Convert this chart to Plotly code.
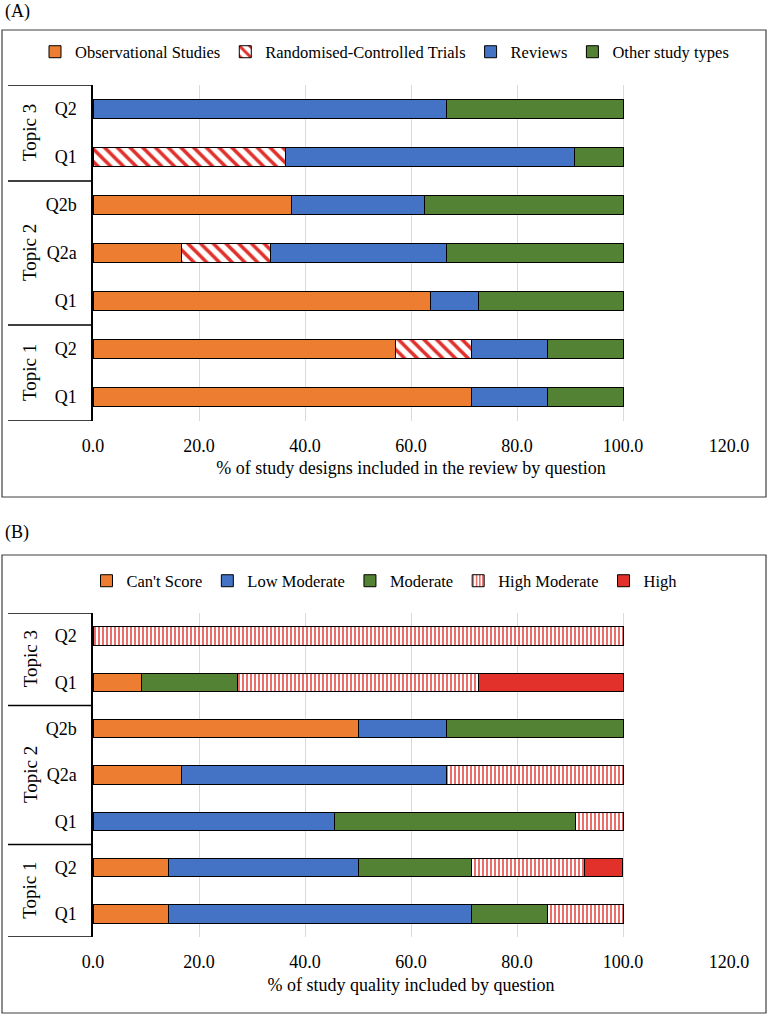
import plotly.graph_objects as go

# ---------------- data ----------------
categories = ["T1 Q1", "T1 Q2", "T2 Q1", "T2 Q2a", "T2 Q2b", "T3 Q1", "T3 Q2"]
question_labels = ["Q1", "Q2", "Q1", "Q2a", "Q2b", "Q1", "Q2"]
topic_labels = ["Topic 1", "Topic 2", "Topic 3"]
topic_centers = [0.5, 3.0, 5.5]
topic_bounds = [-0.5, 1.5, 4.5, 6.5]
x_ticks = [0, 20, 40, 60, 80, 100, 120]

# Panel A: study designs (%)
observational = [71.4, 57.1, 63.6, 16.7, 37.5, 0, 0]
rct = [0, 14.3, 0, 16.7, 0, 36.4, 0]
reviews = [14.3, 14.3, 9.1, 33.3, 25.0, 54.5, 66.7]
other_types = [14.3, 14.3, 27.3, 33.3, 37.5, 9.1, 33.3]

# Panel B: study quality (%)
cant_score = [14.3, 14.3, 0, 16.7, 50.0, 9.1, 0]
low_moderate = [57.1, 35.7, 45.5, 50.0, 16.7, 0, 0]
moderate = [14.3, 21.4, 45.5, 0, 33.3, 18.2, 0]
high_moderate = [14.3, 21.4, 9.1, 33.3, 0, 45.5, 100.0]
high = [0, 7.1, 0, 0, 0, 27.3, 0]

# ---------------- styling ----------------
W, H = 769, 1016
FONT = "Liberation Serif"
ORANGE = "#ED7D31"
BLUE = "#4472C4"
GREEN = "#548235"
RED = "#E2312A"
HATCH = "#E0302A"


def py(px):
    return 1 - px / H


def px_x(px):
    return px / W


def nz(vals):
    return [v if v else None for v in vals]


fig = go.Figure()


def add_bar(name, vals, yaxis, xaxis, legend, color, pattern=None):
    marker = dict(color=color, line=dict(color="black", width=1))
    if pattern is not None:
        marker["pattern"] = pattern
    fig.add_trace(go.Bar(
        name=name, x=nz(vals), y=categories, orientation="h",
        xaxis=xaxis, yaxis=yaxis, legend=legend, marker=marker,
    ))


diag = dict(shape="\\", fgcolor=HATCH, bgcolor="white", size=9, solidity=0.4,
            fillmode="overlay", fgopacity=1)
vert = dict(shape="|", fgcolor=HATCH, bgcolor="white", size=4, solidity=0.35,
            fillmode="overlay", fgopacity=1)

add_bar("Observational Studies", observational, "y", "x", "legend", ORANGE)
add_bar("Randomised-Controlled Trials", rct, "y", "x", "legend", "white", diag)
add_bar("Reviews", reviews, "y", "x", "legend", BLUE)
add_bar("Other study types", other_types, "y", "x", "legend", GREEN)

add_bar("Can't Score", cant_score, "y2", "x2", "legend2", ORANGE)
add_bar("Low Moderate", low_moderate, "y2", "x2", "legend2", BLUE)
add_bar("Moderate", moderate, "y2", "x2", "legend2", GREEN)
add_bar("High Moderate", high_moderate, "y2", "x2", "legend2", "white", vert)
add_bar("High", high, "y2", "x2", "legend2", RED)

x_domain = [px_x(93), px_x(729)]
panelA = dict(top=85, bottom=421, box=(30, 497), legend_y=52, label_y=12,
              title="% of study designs included in the review by question")
panelB = dict(top=613, bottom=937, box=(555, 1013), legend_y=581, label_y=532,
              title="% of study quality included by question")

common_x = dict(
    range=[0, 120], tickvals=x_ticks, ticktext=[f"{v:.1f}" for v in x_ticks],
    showgrid=True, gridcolor="#D9D9D9", gridwidth=1, zeroline=False,
    showline=False, ticks="", tickfont=dict(size=18, family=FONT, color="black"),
    ticklabelstandoff=12, domain=x_domain, automargin=False,
)
common_y = dict(
    type="category", categoryorder="array", categoryarray=categories,
    tickvals=categories, ticktext=question_labels, range=[-0.5, 6.5],
    showline=True, linecolor="black", linewidth=1.5, ticks="",
    showgrid=False, zeroline=False, ticklabelstandoff=11, automargin=False,
    tickfont=dict(size=18, family=FONT, color="black"),
)

legend_common = dict(orientation="h", x=0.5, xanchor="center", yanchor="middle",
                     font=dict(size=16.5, family=FONT, color="black"), traceorder="normal",
                     itemwidth=30, bgcolor="rgba(0,0,0,0)")

fig.update_layout(
    template="none",
    xaxis=dict(common_x, anchor="y",
               title=dict(text=panelA["title"], font=dict(size=18, family=FONT, color="black"), standoff=6)),
    yaxis=dict(common_y, anchor="x", domain=[py(panelA["bottom"]), py(panelA["top"])]),
    xaxis2=dict(common_x, anchor="y2",
                title=dict(text=panelB["title"], font=dict(size=18, family=FONT, color="black"), standoff=7)),
    yaxis2=dict(common_y, anchor="x2", domain=[py(panelB["bottom"]), py(panelB["top"])]),
    barmode="stack", bargap=0.6,
    width=W, height=H, margin=dict(l=0, r=0, t=0, b=0, autoexpand=False),
    paper_bgcolor="white", plot_bgcolor="white",
    font=dict(family=FONT, color="black", size=18),
    legend=dict(legend_common, y=py(panelA["legend_y"])),
    legend2=dict(legend_common, y=py(panelB["legend_y"])),
    showlegend=True,
)

shapes = []
annotations = []
for panel, yref, lab in ((panelA, "y", "(A)"), (panelB, "y2", "(B)")):
    b0, b1 = panel["box"]
    shapes.append(dict(type="rect", xref="paper", yref="paper", x0=px_x(2), x1=px_x(766),
                       y0=py(b1), y1=py(b0), line=dict(color="#404040", width=1.2), layer="below"))
    for yb in topic_bounds:
        shapes.append(dict(type="line", xref="paper", yref=yref, x0=px_x(8), x1=px_x(93),
                           y0=yb, y1=yb, line=dict(color="black", width=1.5)))
    for t, c in zip(topic_labels, topic_centers):
        annotations.append(dict(text=t, xref="paper", yref=yref, x=px_x(30), y=c, textangle=-90,
                                showarrow=False, font=dict(size=19, family=FONT, color="black"),
                                xanchor="center", yanchor="middle"))
    annotations.append(dict(text=lab, xref="paper", yref="paper", x=px_x(3), y=py(panel["label_y"]),
                            xanchor="left", yanchor="middle", showarrow=False,
                            font=dict(size=18, family=FONT, color="black")))

fig.update_layout(shapes=shapes, annotations=annotations)
fig.write_html("out.html", config={"displayModeBar": False},
               post_script="document.body.style.margin='0px';")
